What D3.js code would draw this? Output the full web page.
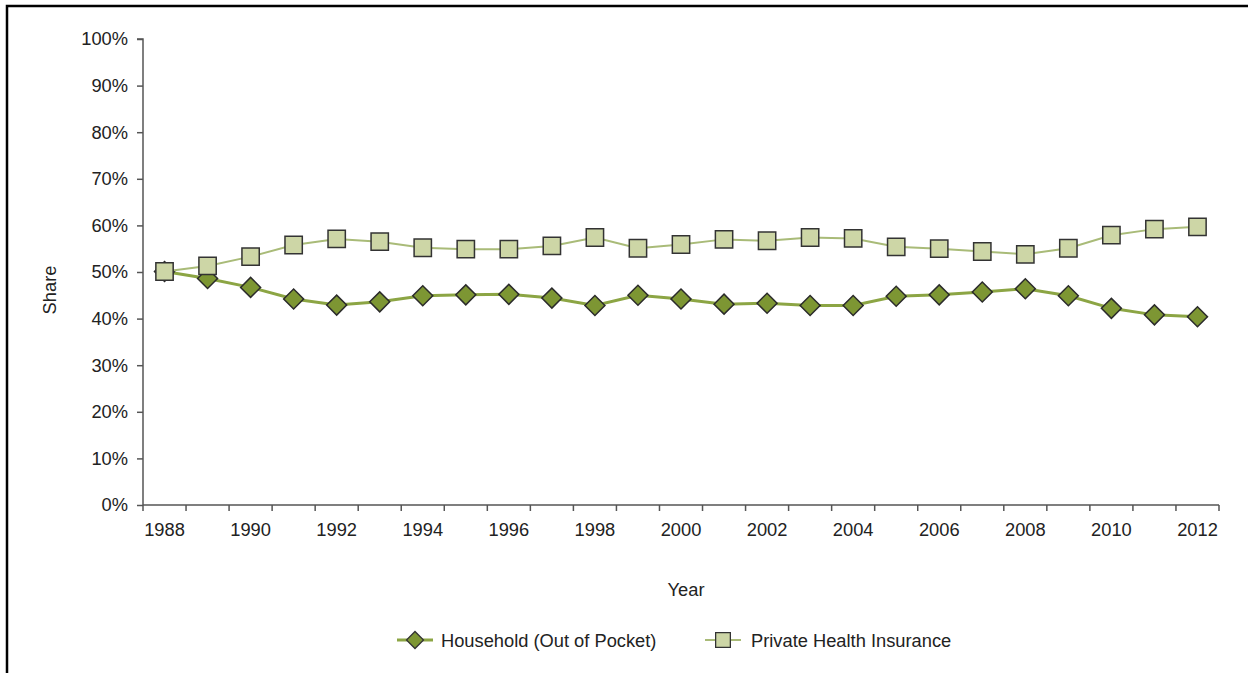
<!DOCTYPE html>
<html>
<head>
<meta charset="utf-8">
<script src="https://cdn.jsdelivr.net/npm/d3@7"></script>
<style>
    body { margin: 0; background: #fff; }
    svg { display: block; font-family: "Liberation Sans", Arial, sans-serif; }
    .axis text { font-size: 18.3px; fill: #222; }
    .axis path, .axis line { stroke: #555; stroke-width: 1.5; }
</style>
</head>
<body>
<svg width="1252" height="673"></svg>
<script>
    var years = d3.range(1988, 2013);
    var household = [50.1, 48.6, 46.7, 44.2, 42.9, 43.6, 44.9, 45.1, 45.2, 44.4, 42.8, 45.0, 44.2,
        43.1, 43.3, 42.8, 42.8, 44.8, 45.1, 45.7, 46.4, 44.9, 42.2, 40.8, 40.4];
    var privateIns = [50.1, 51.3, 53.3, 55.8, 57.1, 56.5, 55.2, 54.9, 54.9, 55.6, 57.4, 55.1, 55.9,
        57.0, 56.7, 57.4, 57.2, 55.4, 55.0, 54.4, 53.8, 55.1, 57.9, 59.2, 59.7];
    var yTicks = [0, 10, 20, 30, 40, 50, 60, 70, 80, 90, 100];
    var seriesNames = ["Household (Out of Pocket)", "Private Health Insurance"];

    var svg = d3.select("svg");
    var margin = {left: 143, right: 33, top: 39, bottom: 168};
    var width = 1252 - margin.left - margin.right,
        height = 673 - margin.top - margin.bottom;
    var fontSize = 18.3;

    // frame (top and left edges only)
    svg.append("path")
        .attr("d", "M7,673V6H1248")
        .attr("fill", "none")
        .attr("stroke", "#000")
        .attr("stroke-width", 2.5);

    var x = d3.scaleBand().domain(years).range([0, width]).padding(0),
        y = d3.scaleLinear().domain([0, 100]).range([height, 0]);

    var g = svg.append("g")
        .attr("transform", "translate(" + margin.left + "," + margin.top + ")");

    g.append("g")
        .attr("class", "axis axis--y")
        .call(d3.axisLeft(y).tickValues(yTicks).tickSize(6).tickPadding(9)
            .tickFormat(function(d) { return d + "%"; }))
        .call(function(a) { a.select(".domain").attr("d", "M0," + height + "V0H-6"); });

    var xAxis = g.append("g")
        .attr("class", "axis axis--x")
        .attr("transform", "translate(0," + height + ")")
        .call(d3.axisBottom(x).tickValues(years.filter(function(d) { return d % 2 === 0; }))
            .tickSize(0).tickPadding(18));
    xAxis.select(".domain").attr("d", "M0,0H" + width);

    // tick marks between categories
    xAxis.selectAll(".sep")
        .data(years.concat([null]))
        .enter().append("line")
        .attr("class", "sep")
        .attr("x1", function(d, i) { return i * x.step(); })
        .attr("x2", function(d, i) { return i * x.step(); })
        .attr("y1", 0)
        .attr("y2", 6);

    g.append("text")
        .attr("transform", "translate(-87," + (height / 2 + 18) + ") rotate(-90)")
        .attr("text-anchor", "middle")
        .attr("font-size", fontSize)
        .attr("fill", "#222")
        .text("Share");

    g.append("text")
        .attr("x", width / 2 + 5)
        .attr("y", height + 91)
        .attr("text-anchor", "middle")
        .attr("font-size", fontSize)
        .attr("fill", "#222")
        .text("Year");

    var cx = function(i) { return x(years[i]) + x.bandwidth() / 2; };
    var line = d3.line()
        .x(function(d, i) { return cx(i); })
        .y(function(d) { return y(d); });

    var diamond = d3.symbol(d3.symbolSquare, 200),
        square = d3.symbol(d3.symbolSquare, 300);

    g.append("path")
        .datum(household)
        .attr("fill", "none")
        .attr("stroke", "#8ca544")
        .attr("stroke-width", 3)
        .attr("d", line);

    g.selectAll(".dia")
        .data(household)
        .enter().append("path")
        .attr("class", "dia")
        .attr("d", diamond)
        .attr("transform", function(d, i) { return "translate(" + cx(i) + "," + y(d) + ") rotate(45)"; })
        .attr("fill", "#7d9633")
        .attr("stroke", "#2b2b2b")
        .attr("stroke-width", 1.5);

    g.append("path")
        .datum(privateIns)
        .attr("fill", "none")
        .attr("stroke", "#a9bb78")
        .attr("stroke-width", 2)
        .attr("d", line);

    g.selectAll(".sq")
        .data(privateIns)
        .enter().append("path")
        .attr("class", "sq")
        .attr("d", square)
        .attr("transform", function(d, i) { return "translate(" + cx(i) + "," + y(d) + ")"; })
        .attr("fill", "#cdd6a6")
        .attr("stroke", "#333")
        .attr("stroke-width", 1.5);

    // legend
    var legend = svg.append("g").attr("transform", "translate(0,640)");
    var items = [
        {name: seriesNames[0], x: 397, tx: 441, color: "#8ca544", sw: 3, sym: diamond, rot: 45, fill: "#7d9633"},
        {name: seriesNames[1], x: 705, tx: 751, color: "#a9bb78", sw: 2, sym: square, rot: 0, fill: "#cdd6a6"}
    ];
    items.forEach(function(it) {
        legend.append("line")
            .attr("x1", it.x).attr("x2", it.x + 36)
            .attr("stroke", it.color).attr("stroke-width", it.sw);
        legend.append("path")
            .attr("d", it.sym)
            .attr("transform", "translate(" + (it.x + 18) + ",0) rotate(" + it.rot + ") scale(0.85)")
            .attr("fill", it.fill)
            .attr("stroke", "#333")
            .attr("stroke-width", 1.5);
        legend.append("text")
            .attr("x", it.tx)
            .attr("y", 6.5)
            .attr("font-size", fontSize)
            .attr("fill", "#222")
            .text(it.name);
    });
</script>
</body>
</html>
